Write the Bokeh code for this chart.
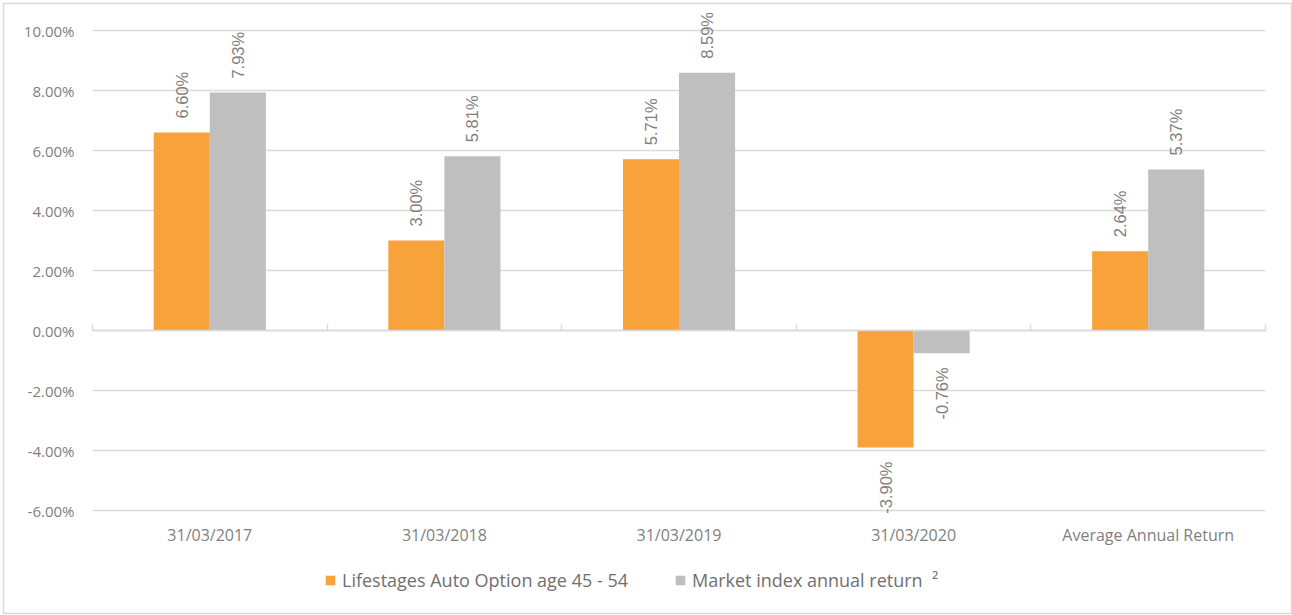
import numpy as np
from bokeh.plotting import figure
from bokeh.models import (ColumnDataSource, Range1d, LinearAxis, FixedTicker,
                          PrintfTickFormatter, Legend, LegendItem)
from bokeh.transform import dodge
from bokeh.core.properties import value
from bokeh.embed import file_html
from bokeh.resources import INLINE

categories = ["31/03/2017", "31/03/2018", "31/03/2019", "31/03/2020", "Average Annual Return"]
fund_returns = [6.60, 3.00, 5.71, -3.90, 2.64]
index_returns = [7.93, 5.81, 8.59, -0.76, 5.37]
series_names = ["Lifestages Auto Option age 45 - 54", "Market index annual return  \u00b2"]
y_ticks = [-6, -4, -2, 0, 2, 4, 6, 8, 10]

ORANGE = "#F7A23B"
GREY = "#BFBFBF"
GRID = "#D9D9D9"
TEXT = "#7F7F7F"

n = len(categories)
centers = [i + 0.5 for i in range(n)]

def mk(vals):
    return dict(x=centers, val=vals,
                lab=[f"{v:.2f}%" for v in vals],
                align=["left" if v >= 0 else "right" for v in vals],
                off=[-14 if v >= 0 else 14 for v in vals])

src_a = ColumnDataSource(mk(fund_returns))
src_b = ColumnDataSource(mk(index_returns))
src_grid = ColumnDataSource(dict(y=y_ticks, x0=[0] * len(y_ticks), x1=[n] * len(y_ticks)))

# the frame fills the whole chart box (its outline is the chart border);
# the plotted scale is -6%..10% over the categories 0..n
p = figure(x_range=Range1d(-0.3794, 5.1108),
           y_range=Range1d(-9.4333, 10.9),
           width=1292, height=615, output_backend="svg", toolbar_location=None,
           min_border_left=3, min_border_right=1, min_border_top=3, min_border_bottom=2)
p.outline_line_color = GRID
p.outline_line_width = 1.5
p.background_fill_color = "white"
p.border_fill_color = "white"

# horizontal gridlines limited to the category span
p.segment(x0="x0", x1="x1", y0="y", y1="y", source=src_grid,
          line_color=GRID, line_width=1.5)

bw = 0.239
r1 = p.vbar(x=dodge("x", -bw / 2), top="val", bottom=0, width=bw,
            source=src_a, fill_color=ORANGE, line_color=None)
r2 = p.vbar(x=dodge("x", bw / 2), top="val", bottom=0, width=bw,
            source=src_b, fill_color=GREY, line_color=None)

for src, d in ((src_a, -bw / 2), (src_b, bw / 2)):
    p.text(x=dodge("x", d), y="val", text="lab", source=src,
           angle=np.pi / 2, text_align="align", text_baseline="middle",
           y_offset="off", text_font=value("Liberation Sans"), text_font_size="16.5px",
           text_color=TEXT)

p.xgrid.grid_line_color = None
p.ygrid.grid_line_color = None

# y axis drawn at the left edge of the category span
p.yaxis.fixed_location = 0
p.yaxis.ticker = FixedTicker(ticks=y_ticks)
p.yaxis.formatter = PrintfTickFormatter(format="%.2f%%")
p.yaxis.axis_line_color = None
p.yaxis.major_tick_line_color = None
p.yaxis.minor_tick_line_color = None
p.yaxis.major_tick_out = 0
p.yaxis.major_label_standoff = 18
p.yaxis.major_label_text_font = "Open Sans"
p.yaxis.major_label_text_font_size = "15px"
p.yaxis.major_label_text_color = TEXT

# x axis (category labels under the lowest gridline)
p.xaxis.fixed_location = min(y_ticks)
p.xaxis.ticker = FixedTicker(ticks=centers)
p.xaxis.major_label_overrides = {c: lab for c, lab in zip(centers, categories)}
p.xaxis.axis_line_color = None
p.xaxis.major_tick_line_color = None
p.xaxis.minor_tick_line_color = None
p.xaxis.major_tick_out = 0
p.xaxis.major_label_standoff = 13
p.xaxis.major_label_text_font = "Open Sans"
p.xaxis.major_label_text_font_size = "16px"
p.xaxis.major_label_text_color = TEXT

# zero line with category boundary ticks
edge_axis = LinearAxis(fixed_location=0, bounds=(0, n),
                       ticker=FixedTicker(ticks=list(range(n + 1))),
                       axis_line_color=GRID, axis_line_width=1.5,
                       major_tick_line_color=GRID, major_tick_line_width=1.5,
                       major_tick_in=0, major_tick_out=6, minor_tick_line_color=None,
                       major_label_text_color=None, major_label_text_font_size="1px",
                       major_label_standoff=0)
p.add_layout(edge_axis, "above")

legend = Legend(items=[LegendItem(label=series_names[0], renderers=[r1]),
                       LegendItem(label=series_names[1], renderers=[r2])],
                orientation="horizontal", location=(321, 21),
                glyph_width=12, glyph_height=12, label_standoff=6, spacing=46,
                label_text_font="Open Sans", label_text_font_size="18px",
                label_text_color="#6F6F6F", border_line_color=None,
                background_fill_alpha=0, padding=0, margin=0)
p.add_layout(legend)

open("out.html", "w").write(file_html(p, INLINE))
